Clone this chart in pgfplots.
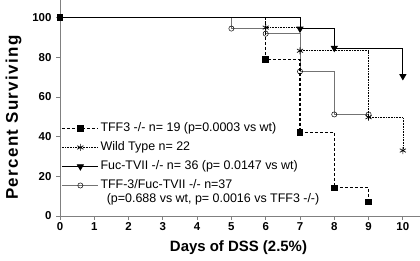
\documentclass[border=0pt]{standalone}
\usepackage{pgfplots}
\pgfplotsset{compat=1.18}
\usepackage{fontspec}
\setmainfont{Liberation Sans}
\definecolor{axgray}{gray}{0.5}
\definecolor{lgray}{gray}{0.45}
\begin{document}
\begin{tikzpicture}
\path[use as bounding box] (-60bp,-45bp) rectangle (360bp,216bp);
\begin{axis}[
  scale only axis,
  width=360bp, height=216bp,
  xmin=0, xmax=10.5, ymin=0, ymax=108.9,
  axis x line=bottom, axis y line=left,
  axis line style={-, axgray, line width=0.8pt},
  tick style={axgray, line width=0.8pt},
  tick align=outside,
  major tick length=4bp,
  xtick={0,1,...,10}, ytick={0,20,...,100},
  /pgf/number format/assume math mode=true,
  tick label style={font=\bfseries\fontsize{11.5}{12}\selectfont, black},
  xticklabel style={yshift=1bp},
  yticklabel style={xshift=-1bp},
  xlabel={Days of DSS (2.5\%)},
  ylabel={Percent Surviving},
  xlabel style={font=\bfseries\fontsize{15}{16}\selectfont, yshift=-3bp, xshift=-1.5bp},
  ylabel style={font=\bfseries\fontsize{17}{18}\selectfont\addfontfeatures{LetterSpace=8}, yshift=4bp, xshift=-9.5bp},
  legend cell align=left,
  legend style={draw=none, fill=none, at={(axis cs:0.03,47.25)}, anchor=north west,
    font=\fontsize{12.5}{13}\selectfont, inner sep=0pt, row sep=7bp, column sep=2bp,
    nodes={inner sep=0pt, text height=9bp, text depth=3bp}},
  legend image code/.code={\draw[mark repeat=2,mark phase=2] plot coordinates {(0bp,0bp) (18.5bp,0bp) (36bp,0bp)};},
  clip=false,
]
% Wild Type
\addplot[forget plot, const plot, black, densely dotted, line width=0.6pt, mark=asterisk, mark size=3.5bp, mark phase=2, mark repeat=1, mark options={solid, line width=0.7pt}]
  coordinates {(0,100) (6,95) (7,83.3) (9,49.8) (10,33)};
% TFF-3/Fuc-TVII
\addplot[forget plot, const plot, lgray, line width=0.8pt, mark=o, mark size=2.6bp, mark phase=2, mark repeat=1, mark options={fill=white, draw=black, line width=0.5pt}]
  coordinates {(0,100) (5,94.5) (6,91.9) (7,72.9) (8,51.2) (9,51.2)};
% Fuc-TVII
\addplot[forget plot, const plot, black, line width=0.8pt, mark=triangle*, mark size=3.5bp, mark phase=2, mark repeat=1, mark options={rotate=180}]
  coordinates {(0,100) (7,94.4) (8,84.7) (10,70.5)};
% TFF3
\addplot[forget plot, const plot, black, dashed, dash pattern=on 3bp off 2bp, line width=1.3pt, mark=square*, mark size=2.6bp, mark options={solid}]
  coordinates {(0,100) (6,79) (7,42) (8,14.2) (9,7)};
\addlegendimage{black, dashed, dash pattern=on 3bp off 2bp, line width=1.3pt, mark=square*, mark size=2.6bp, mark options={solid}}
\addlegendentry{TFF3 -/- n= 19 (p=0.0003 vs wt)}
\addlegendimage{black, densely dotted, line width=0.6pt, mark=asterisk, mark size=3.5bp, mark options={solid, line width=0.7pt}}
\addlegendentry{Wild Type n= 22}
\addlegendimage{black, line width=0.8pt, mark=triangle*, mark size=3.5bp, mark options={rotate=180}}
\addlegendentry{Fuc-TVII -/- n= 36 (p= 0.0147 vs wt)}
\addlegendimage{lgray, line width=0.8pt, mark=o, mark size=2.6bp, mark options={fill=white, draw=black, line width=0.5pt}}
\addlegendentry{TFF-3/Fuc-TVII -/- n=37}
\node[anchor=base west, font=\fontsize{12.5}{13}\selectfont, inner sep=0pt] at (axis cs:1.36,6.9) {(p=0.688 vs wt, p= 0.0016 vs TFF3 -/-)};
\end{axis}
\end{tikzpicture}
\end{document}
